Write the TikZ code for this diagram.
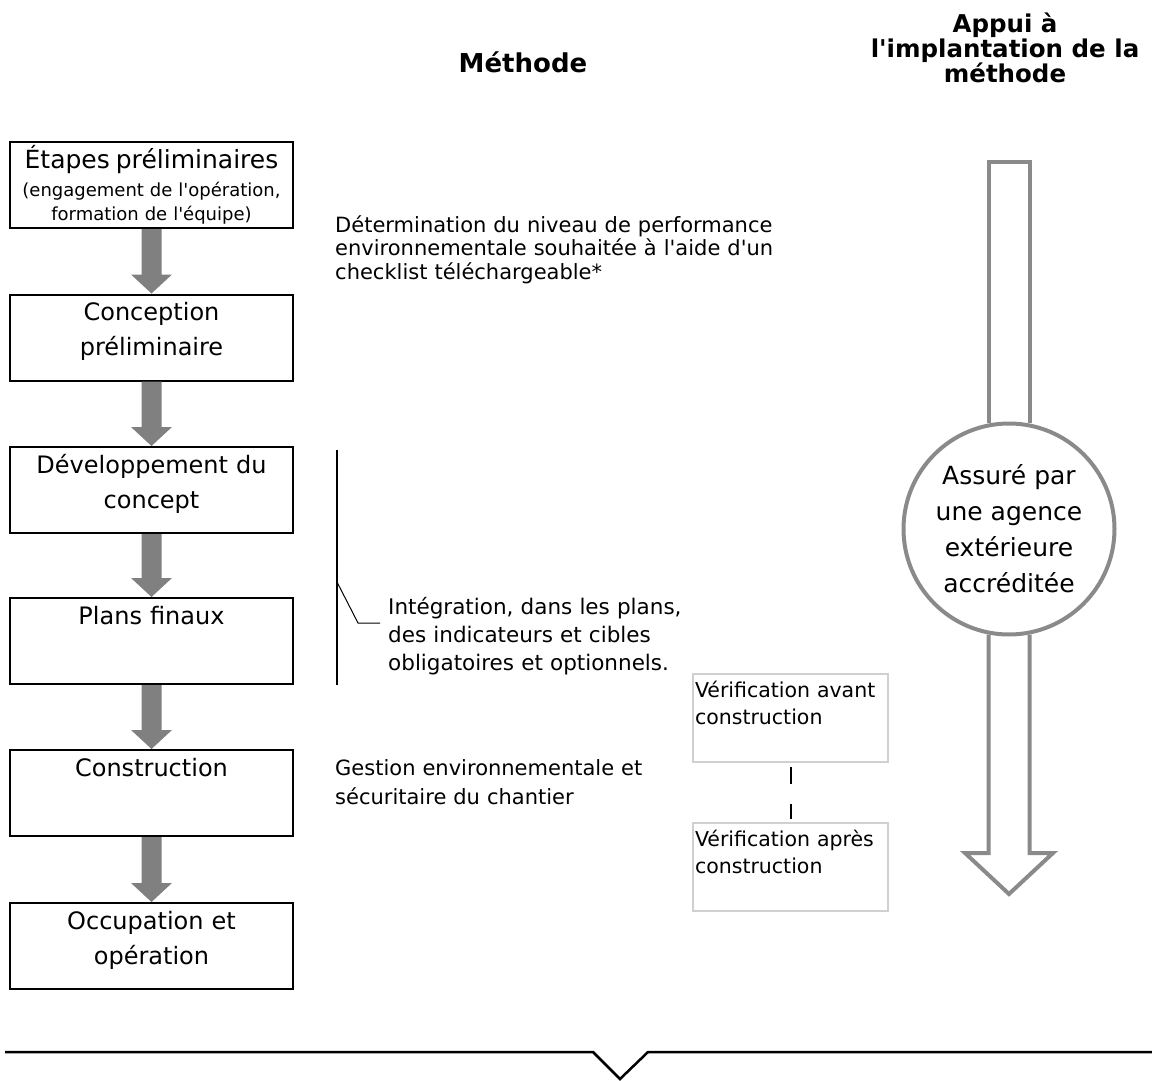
\documentclass[tikz,border=0pt]{standalone}
\usepackage{fontspec}
\setmainfont{DejaVu Sans}[Ligatures=TeXOff]
\usetikzlibrary{calc}
\definecolor{flowgray}{HTML}{808080}
\definecolor{ringgray}{HTML}{8A8A8A}
\definecolor{vergray}{HTML}{D0D0D0}
\newcommand\flowarrow[2]{%
  \fill[flowgray] ($(#1.south)+(-10,0)$) -- ($(#2.north)+(-10,-19)$) -- ($(#2.north)+(-20.5,-19)$)
    -- (#2.north) -- ($(#2.north)+(20.5,-19)$) -- ($(#2.north)+(10,-19)$) -- ($(#1.south)+(10,0)$) -- cycle;}
\begin{document}
\begin{tikzpicture}[x=1pt,y=-1pt,
  stepbox/.style={draw=black, line width=2pt, inner xsep=2pt, inner ysep=0pt, text width=279pt,
    align=center, text height=26pt, text depth=60pt, font=\fontsize{24}{35}\selectfont},
  verbox/.style={draw=vergray, line width=1.5pt, inner xsep=2pt, inner ysep=0pt, text width=191pt,
    align=left, text height=23pt, text depth=65pt, font=\fontsize{20.5}{27}\selectfont},
  note/.style={anchor=base west, inner sep=0pt, align=left, text width=460pt},
  ring/.style={circle, draw=ringgray, line width=4pt, minimum size=211pt, inner sep=0pt,
    align=center, font=\fontsize{25}{36}\selectfont},
  title/.style={inner sep=0pt, align=center, font=\bfseries\fontsize{24.5}{25}\selectfont}]
\useasboundingbox (0,0) rectangle (1152,1081);

% titles
\node[title, font=\bfseries\fontsize{26}{30}\selectfont] (tmeth) at (523,62) {Méthode};
\node[title] (tappui) at (1005,48) {Appui à\\l'implantation de la\\méthode};

% flow boxes
\node[stepbox, font=\fontsize{18}{24}\selectfont] (b1) at (151.5,185) {{\fontsize{25}{28}\selectfont Étapes préliminaires}\\[4pt](engagement de l'opération,\\formation de l'équipe)};
\node[stepbox] (b2) at (151.5,337.5) {Conception\\préliminaire};
\node[stepbox] (b3) at (151.5,490) {Développement du\\concept};
\node[stepbox] (b4) at (151.5,641) {Plans finaux};
\node[stepbox] (b5) at (151.5,793) {Construction};
\node[stepbox] (b6) at (151.5,946) {Occupation et\\opération};

\flowarrow{b1}{b2}
\flowarrow{b2}{b3}
\flowarrow{b3}{b4}
\flowarrow{b4}{b5}
\flowarrow{b5}{b6}

% notes
\node[note, font=\fontsize{21}{23.5}\selectfont] (ndet) at (335,232) {Détermination du niveau de performance\\environnementale souhaitée à l'aide d'un\\checklist téléchargeable*};
\node[note, font=\fontsize{21.5}{28}\selectfont] (nint) at (388,614) {Intégration, dans les plans,\\des indicateurs et cibles\\obligatoires et optionnels.};
\node[note, font=\fontsize{21}{29}\selectfont] (nges) at (335,775) {Gestion environnementale et\\sécuritaire du chantier};

% bracket
\coordinate (brtop) at (337,450);
\coordinate (brbot) at (337,685);
\coordinate (brk) at (337,582);
\coordinate (brbend) at (358,623);
\coordinate (brend) at (380,623);
\draw[line width=2pt] (brtop) -- (brbot);
\draw[line width=1pt] (brk) -- (brbend) -- (brend);

% verification boxes
\node[verbox] (va) at (790.5,718) {Vérification avant\\construction};
\node[verbox] (vb) at (790.5,867) {Vérification après\\construction};
\draw[line width=2pt, dash pattern=on 0pt off 4pt on 17pt off 20pt on 15pt off 100pt] (va.south) -- (vb.north);

% right big arrow with circle
\node[ring] (circ) at (1009,529) {Assuré par\\une agence\\extérieure\\accréditée};
\coordinate (shafttop) at (1009,162);
\coordinate (headbase) at (1009,853);
\coordinate (tip) at (1009,894);
\draw[ringgray, line width=4pt, line join=miter] (circ.101) -- (circ.101 |- shafttop) -- (circ.79 |- shafttop) -- (circ.79);
\draw[ringgray, line width=4pt, line join=miter] (circ.259) -- (circ.259 |- headbase) -- ($(headbase)+(-44,0)$) -- (tip) -- ($(headbase)+(44,0)$) -- (circ.281 |- headbase) -- (circ.281);

% bottom line with notch
\coordinate (bl) at (5,1052);
\coordinate (nl) at (593,1052);
\coordinate (nt) at (620,1079);
\coordinate (nr) at (648,1052);
\coordinate (br) at (1152,1052);
\draw[line width=2.5pt, line join=miter] (bl) -- (nl) -- (nt) -- (nr) -- (br);
\end{tikzpicture}
\end{document}
